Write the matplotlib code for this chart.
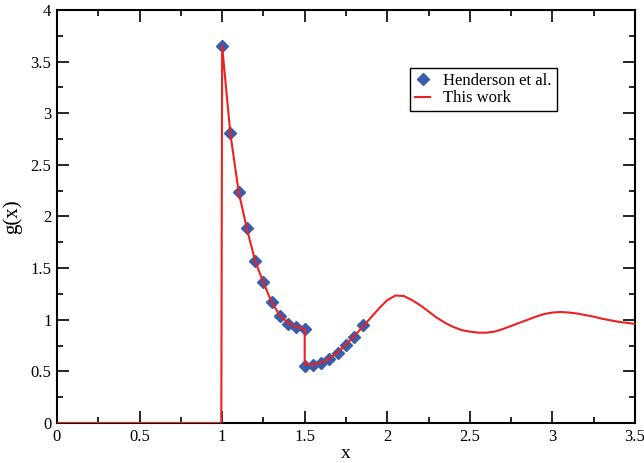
import matplotlib.pyplot as plt
from matplotlib.ticker import MultipleLocator, FormatStrFormatter

plt.rcParams['font.family'] = ['Liberation Serif', 'DejaVu Serif']

# Henderson et al. reference points
hx = [1.0, 1.05, 1.1, 1.15, 1.2, 1.25, 1.3, 1.35, 1.4, 1.45, 1.5,
      1.5, 1.55, 1.6, 1.65, 1.7, 1.75, 1.8, 1.85]
hy = [3.65, 2.81, 2.24, 1.89, 1.57, 1.37, 1.17, 1.04, 0.96, 0.93, 0.91,
      0.55, 0.56, 0.58, 0.62, 0.68, 0.755, 0.83, 0.95]

# This work curve
cx = [0.0, 0.995, 1.0, 1.05, 1.1, 1.15, 1.2, 1.25, 1.3, 1.35, 1.4, 1.45, 1.5,
      1.5, 1.55, 1.6, 1.65, 1.7, 1.75, 1.8, 1.85, 1.9, 1.95, 2.0, 2.05,
      2.1, 2.15, 2.2, 2.25, 2.3, 2.35, 2.4, 2.45, 2.5, 2.55, 2.6, 2.65,
      2.7, 2.75, 2.8, 2.85, 2.9, 2.95, 3.0, 3.05, 3.1, 3.15, 3.2, 3.25,
      3.3, 3.35, 3.4, 3.45, 3.5]
cy = [0.0, 0.0, 3.65, 2.80, 2.24, 1.88, 1.57, 1.36, 1.17, 1.04, 0.97, 0.93, 0.91,
      0.57, 0.565, 0.585, 0.625, 0.685, 0.76, 0.84, 0.93, 1.02, 1.11, 1.19, 1.235,
      1.23, 1.19, 1.14, 1.08, 1.02, 0.97, 0.93, 0.90, 0.885, 0.875, 0.875, 0.885,
      0.91, 0.94, 0.97, 1.00, 1.03, 1.055, 1.07, 1.075, 1.07, 1.06, 1.045, 1.03,
      1.01, 0.995, 0.98, 0.97, 0.96]

fig = plt.figure(figsize=(6.44, 4.63), dpi=100)
ax = fig.add_axes([0.0885, 0.0864, 0.8975, 0.892])

ax.plot(hx, hy, linestyle='none', marker='D', markersize=6.5, color='#3b5bab',
        label='Henderson et al.', zorder=2)
ax.plot(cx, cy, color='#ee2020', linewidth=1.5, label='This work', zorder=3)

ax.set_xlim(0, 3.5)
ax.set_ylim(0, 4)
ax.xaxis.set_major_locator(MultipleLocator(0.5))
ax.xaxis.set_minor_locator(MultipleLocator(0.25))
ax.yaxis.set_major_locator(MultipleLocator(0.5))
ax.yaxis.set_minor_locator(MultipleLocator(0.25))
ax.xaxis.set_major_formatter(FormatStrFormatter('%g'))
ax.yaxis.set_major_formatter(FormatStrFormatter('%g'))
ax.tick_params(which='both', direction='in', top=True, right=True, labelsize=12, width=1.2)
ax.tick_params(which='major', length=8.5, pad=4)
ax.tick_params(which='minor', length=4.5)
for s in ax.spines.values():
    s.set_linewidth(1.5)

ax.set_xlabel('x', fontsize=14, labelpad=0)
ax.set_ylabel('g(x)', fontsize=15, labelpad=6)

leg = ax.legend(loc='upper left', bbox_to_anchor=(0.611, 0.86), fontsize=12,
                frameon=True, fancybox=False, edgecolor='black', framealpha=1,
                handlelength=0.9, handletextpad=0.8, borderpad=0.3,
                labelspacing=0.1, borderaxespad=0)
leg.get_frame().set_linewidth(1.0)

fig.savefig('out.png', dpi=100)
